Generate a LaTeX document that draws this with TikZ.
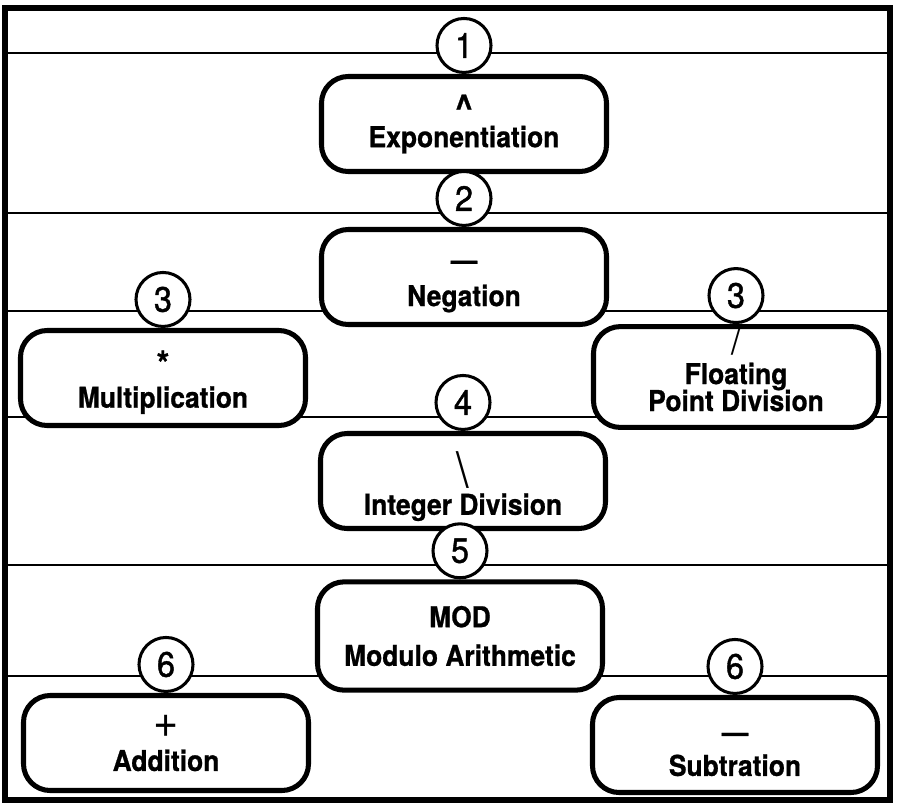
\documentclass[tikz,border=0pt]{standalone}
\usepackage{fontspec}
\setmainfont{TeX Gyre Heros}[FakeStretch=0.92, BoldFeatures={FakeBold=0.8}]
\newfontfamily\digitfont{TeX Gyre Heros}[FakeStretch=0.92, FakeBold=1.2]
\usetikzlibrary{positioning}
\tikzset{
  opbox/.style={draw, line width=4.3pt, fill=white, rounded corners=0.8cm,
    minimum width=8.55cm, minimum height=2.85cm, inner sep=0pt, align=center,
    font=\fontsize{24.5}{27}\bfseries\selectfont},
  rank/.style={draw, circle, line width=2.6pt, fill=white, minimum size=1.62cm,
    inner sep=0pt, font=\fontsize{30}{30}\digitfont},
  level/.style={line width=1.6pt},
}
\newcommand{\thinsym}[2][34]{{\mdseries\fontsize{#1}{#1}\selectfont #2}}
\newcommand{\bigsym}[1]{{\fontsize{30}{30}\selectfont #1}}
\newcommand{\lowdash}{\rule{0pt}{24pt}—}

\begin{document}
\begin{tikzpicture}[x=0.03cm, y=-0.03cm]
  \useasboundingbox (0,0) rectangle (897,803);
  % precedence levels
  \foreach \yy in {53,213,311,417,565,676}{
    \draw[level] (5,\yy) -- (890,\yy);
  }
  \draw[line width=4.3pt] (5,8) rectangle (890,800);
  % operators
  \node[opbox] (expo) at (464,124) {\bigsym{\textasciicircum}\\[-3pt]Exponentiation};
  \node[opbox] (neg) at (464,277) {\lowdash\\[4pt]Negation};
  \node[opbox] (mult) at (163,378) {\rule{0pt}{29pt}\bigsym{*}\\[0pt]Multiplication};
  \node[opbox, font=\fontsize{24.5}{24}\bfseries\selectfont] (fpd) at (736,377)
    {\thinsym[33]{/}\\[1pt]Floating\\[-1pt]Point Division\rule[-14pt]{0pt}{14pt}};
  \node[opbox] (idiv) at (463,481)
    {\rule{0pt}{40pt}\thinsym[42]{\textbackslash}\\[-4pt]Integer Division};
  \node[opbox, minimum height=3.25cm] (mod) at (460,636) {MOD\\[6pt]Modulo Arithmetic};
  \node[opbox] (add) at (166,743) {\thinsym[40]{+}\\[2pt]Addition};
  \node[opbox] (sub) at (735,745) {\lowdash\\[2pt]Subtration};
  % ranks
  \node[rank, above=0pt of expo] (r1) {1};
  \node[rank, above=0pt of neg] (r2) {2};
  \node[rank, above=0pt of mult] (r3a) {3};
  \node[rank, above=0pt of fpd] (r3b) {3};
  \node[rank, above=0pt of idiv] (r4) {4};
  \node[rank, above=0pt of mod] (r5) {5};
  \node[rank, above=0pt of add] (r6a) {6};
  \node[rank, above=0pt of sub] (r6b) {6};
\end{tikzpicture}
\end{document}
